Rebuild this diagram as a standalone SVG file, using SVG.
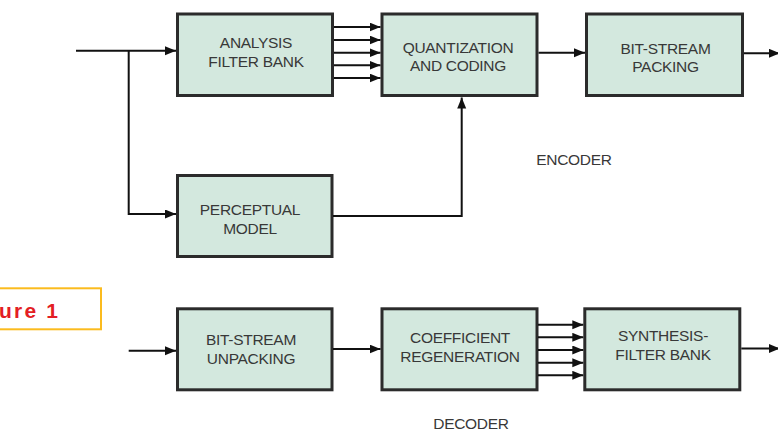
<svg xmlns="http://www.w3.org/2000/svg" width="778" height="430" viewBox="0 0 778 430">
  <style>
    .box { fill: #d3e8de; stroke: #2b2b2b; stroke-width: 3; }
    .lbl { font-family: "Liberation Sans", Arial, sans-serif; font-size: 15.5px; letter-spacing: -0.3px; fill: #383838; text-anchor: middle; }
    .wire { fill: none; stroke: #111; stroke-width: 2; }
    .arr { marker-end: url(#head); }
    .fig { font-family: "Liberation Sans", Arial, sans-serif; font-size: 21px; font-weight: bold; fill: #e31e24; letter-spacing: 2.2px; }
  </style>
  <defs>
    <marker id="head" markerUnits="userSpaceOnUse" markerWidth="12" markerHeight="10" refX="11" refY="4.5" orient="auto">
      <path d="M0,0 L11,4.5 L0,9 Z" fill="#111"/>
    </marker>
  </defs>

  <rect width="778" height="430" fill="#fff"/>

  <!-- figure tag, cut at the left margin -->
  <g id="figure-tag">
    <rect x="-10" y="288.3" width="111" height="41" fill="#fff" stroke="#fbbb1e" stroke-width="2"/>
    <text class="fig" x="-1" y="317.5">ure 1</text>
  </g>

  <!-- encoder -->
  <g id="analysis">
    <rect class="box" x="177.5" y="14" width="155" height="81.5"/>
    <text class="lbl" x="256" y="47.5">ANALYSIS</text>
    <text class="lbl" x="256" y="66.5">FILTER BANK</text>
  </g>
  <g id="quantization">
    <rect class="box" x="382" y="14" width="155" height="81.5"/>
    <text class="lbl" x="458" y="52.5">QUANTIZATION</text>
    <text class="lbl" x="458" y="71">AND CODING</text>
  </g>
  <g id="packing">
    <rect class="box" x="586.5" y="14" width="156" height="81.5"/>
    <text class="lbl" x="665.5" y="53.5">BIT-STREAM</text>
    <text class="lbl" x="665.5" y="72">PACKING</text>
  </g>
  <g id="perceptual">
    <rect class="box" x="177.5" y="175.5" width="154.5" height="81"/>
    <text class="lbl" x="250" y="215">PERCEPTUAL</text>
    <text class="lbl" x="250" y="234">MODEL</text>
  </g>
  <g id="encoder-label">
    <text class="lbl" x="574" y="165">ENCODER</text>
  </g>

  <!-- decoder -->
  <g id="unpacking">
    <rect class="box" x="177.5" y="308.8" width="154.5" height="81"/>
    <text class="lbl" x="251" y="345">BIT-STREAM</text>
    <text class="lbl" x="251" y="364">UNPACKING</text>
  </g>
  <g id="regeneration">
    <rect class="box" x="382" y="308.8" width="155" height="81"/>
    <text class="lbl" x="460" y="343">COEFFICIENT</text>
    <text class="lbl" x="460" y="362">REGENERATION</text>
  </g>
  <g id="synthesis">
    <rect class="box" x="584.8" y="308.8" width="155" height="81"/>
    <text class="lbl" x="663" y="340.5">SYNTHESIS-</text>
    <text class="lbl" x="663" y="360">FILTER BANK</text>
  </g>
  <g id="decoder-label">
    <text class="lbl" x="471" y="428.5">DECODER</text>
  </g>

  <g id="connectors">
    <!-- encoder input and branch to the perceptual model -->
    <path class="wire arr" d="M76,50.7 H176"/>
    <path class="wire arr" d="M128.7,50.7 V214 H176"/>
    <!-- subband outputs -->
    <path class="wire arr" d="M334,27 H380.5"/>
    <path class="wire arr" d="M334,40 H380.5"/>
    <path class="wire arr" d="M334,52.7 H380.5"/>
    <path class="wire arr" d="M334,65.3 H380.5"/>
    <path class="wire arr" d="M334,78 H380.5"/>
    <!-- quantization to packing, packing output -->
    <path class="wire arr" d="M538.5,52.7 H585"/>
    <path class="wire arr" d="M744,53.3 H780"/>
    <!-- perceptual model feeds quantization -->
    <path class="wire arr" d="M333,216 H461.7 V97.5"/>

    <!-- decoder chain -->
    <path class="wire arr" d="M128.7,350.7 H176"/>
    <path class="wire arr" d="M333,349 H380.5"/>
    <path class="wire arr" d="M538,324.7 H583.3"/>
    <path class="wire arr" d="M538,337.3 H583.3"/>
    <path class="wire arr" d="M538,350 H583.3"/>
    <path class="wire arr" d="M538,362.7 H583.3"/>
    <path class="wire arr" d="M538,375.3 H583.3"/>
    <path class="wire arr" d="M741.3,348.5 H780"/>
  </g>
</svg>
